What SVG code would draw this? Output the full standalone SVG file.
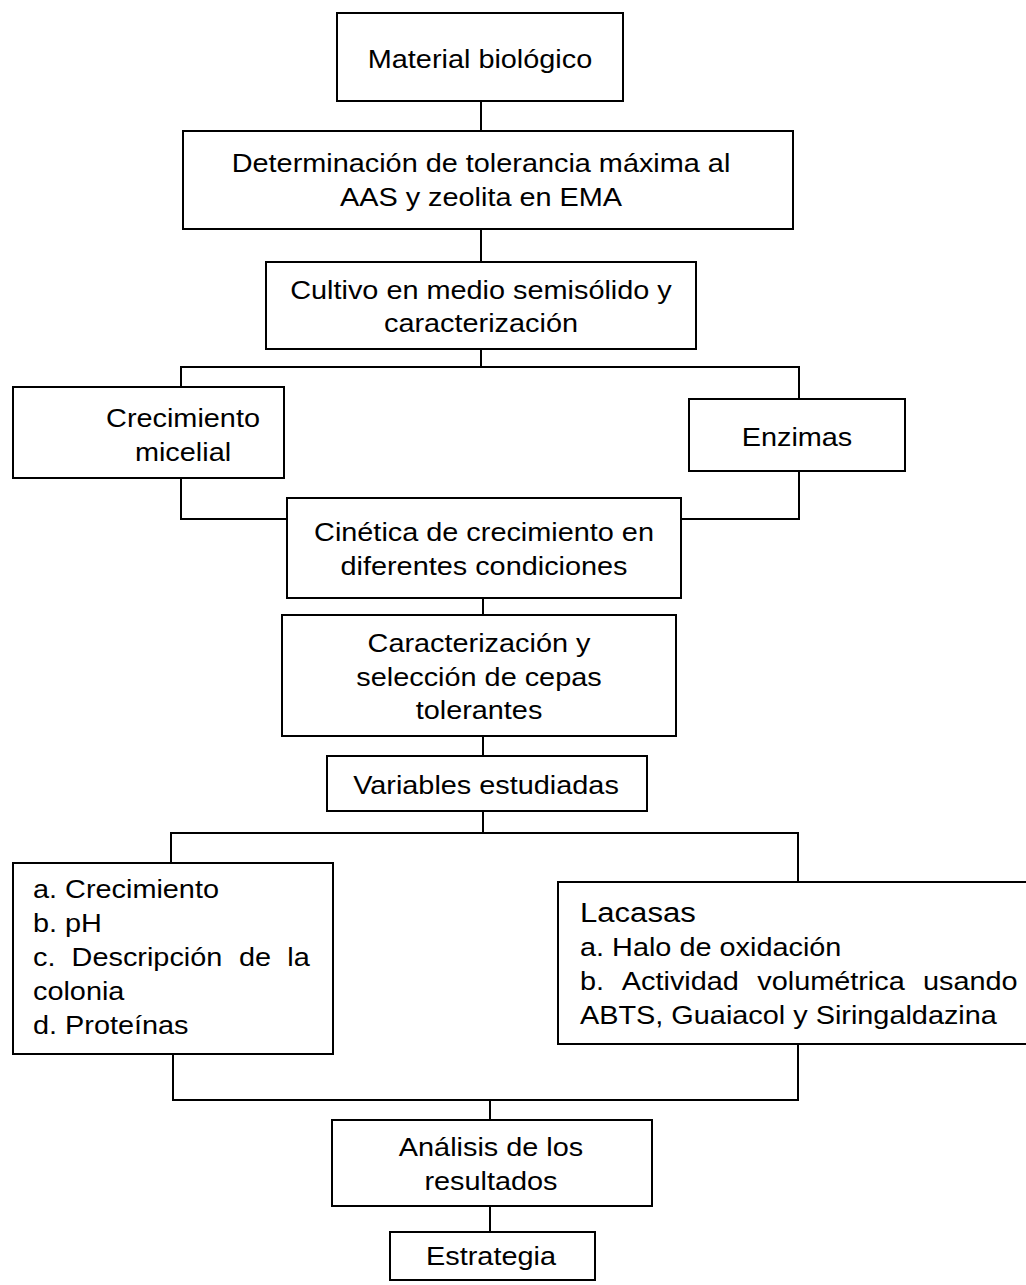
<svg xmlns="http://www.w3.org/2000/svg" width="1026" height="1285" viewBox="0 0 1026 1285">
<style>
.bg{fill:#fff}
.box{fill:#fff;stroke:#000;stroke-width:2}
.ln{fill:none;stroke:#000;stroke-width:2}
.t{font-family:"Liberation Sans",Arial,sans-serif;font-size:26px;fill:#000}
.c{text-anchor:middle}
.big{font-size:28px}
</style>
<rect class="bg" x="0" y="0" width="1026" height="1285"/>
<g id="connectors">
<path class="ln" d="M481 101V132"/>
<path class="ln" d="M481 229V262"/>
<path class="ln" d="M481 349V367"/>
<path class="ln" d="M181 387V367H799V399"/>
<path class="ln" d="M181 478V519H287"/>
<path class="ln" d="M799 471V519H681"/>
<path class="ln" d="M483 598V615"/>
<path class="ln" d="M483 736V756"/>
<path class="ln" d="M483 811V833"/>
<path class="ln" d="M171 863V833H798V882"/>
<path class="ln" d="M173 1054V1100H798V1044"/>
<path class="ln" d="M490 1100V1120"/>
<path class="ln" d="M490 1206V1232"/>
</g>
<g id="n1">
<rect class="box" x="337" y="13" width="286" height="88"/>
<text class="t c" transform="translate(480,68) scale(1.11,1)">Material biológico</text>
</g>
<g id="n2">
<rect class="box" x="183" y="131" width="610" height="98"/>
<text class="t c" transform="translate(481,172) scale(1.11,1)">Determinación de tolerancia máxima al</text>
<text class="t c" transform="translate(481,206) scale(1.11,1)">AAS y zeolita en EMA</text>
</g>
<g id="n3">
<rect class="box" x="266" y="262" width="430" height="87"/>
<text class="t c" transform="translate(481,299) scale(1.11,1)">Cultivo en medio semisólido y</text>
<text class="t c" transform="translate(481,332) scale(1.11,1)">caracterización</text>
</g>
<g id="n4">
<rect class="box" x="13" y="387" width="271" height="91"/>
<text class="t c" transform="translate(183,427) scale(1.11,1)">Crecimiento</text>
<text class="t c" transform="translate(183,461) scale(1.11,1)">micelial</text>
</g>
<g id="n5">
<rect class="box" x="689" y="399" width="216" height="72"/>
<text class="t c" transform="translate(797,446) scale(1.11,1)">Enzimas</text>
</g>
<g id="n6">
<rect class="box" x="287" y="498" width="394" height="100"/>
<text class="t c" transform="translate(484,541) scale(1.11,1)">Cinética de crecimiento en</text>
<text class="t c" transform="translate(484,575) scale(1.11,1)">diferentes condiciones</text>
</g>
<g id="n7">
<rect class="box" x="282" y="615" width="394" height="121"/>
<text class="t c" transform="translate(479,652) scale(1.11,1)">Caracterización y</text>
<text class="t c" transform="translate(479,686) scale(1.11,1)">selección de cepas</text>
<text class="t c" transform="translate(479,719) scale(1.11,1)">tolerantes</text>
</g>
<g id="n8">
<rect class="box" x="327" y="756" width="320" height="55"/>
<text class="t c" transform="translate(486,794) scale(1.11,1)">Variables estudiadas</text>
</g>
<g id="n9">
<rect class="box" x="13" y="863" width="320" height="191"/>
<text class="t" transform="translate(33,898) scale(1.11,1)">a. Crecimiento</text>
<text class="t" transform="translate(33,932) scale(1.11,1)">b. pH</text>
<text class="t" transform="translate(33,966) scale(1.11,1)"><tspan x="0">c.</tspan><tspan x="34.8">Descripción</tspan><tspan x="185.6">de</tspan><tspan x="229.1">la</tspan></text>
<text class="t" transform="translate(33,1000) scale(1.11,1)">colonia</text>
<text class="t" transform="translate(33,1034) scale(1.11,1)">d. Proteínas</text>
</g>
<g id="n10">
<rect class="box" x="558" y="882" width="480" height="162"/>
<text class="t big" transform="translate(580,922) scale(1.11,1)">Lacasas</text>
<text class="t" transform="translate(580,956) scale(1.11,1)">a. Halo de oxidación</text>
<text class="t" transform="translate(580,990) scale(1.11,1)"><tspan x="0">b.</tspan><tspan x="37.7">Actividad</tspan><tspan x="159.7">volumétrica</tspan><tspan x="309">usando</tspan></text>
<text class="t" transform="translate(580,1024) scale(1.11,1)">ABTS, Guaiacol y Siringaldazina</text>
</g>
<g id="n11">
<rect class="box" x="332" y="1120" width="320" height="86"/>
<text class="t c" transform="translate(491,1156) scale(1.11,1)">Análisis de los</text>
<text class="t c" transform="translate(491,1190) scale(1.11,1)">resultados</text>
</g>
<g id="n12">
<rect class="box" x="390" y="1232" width="205" height="48"/>
<text class="t c" transform="translate(491,1265) scale(1.11,1)">Estrategia</text>
</g>
</svg>
